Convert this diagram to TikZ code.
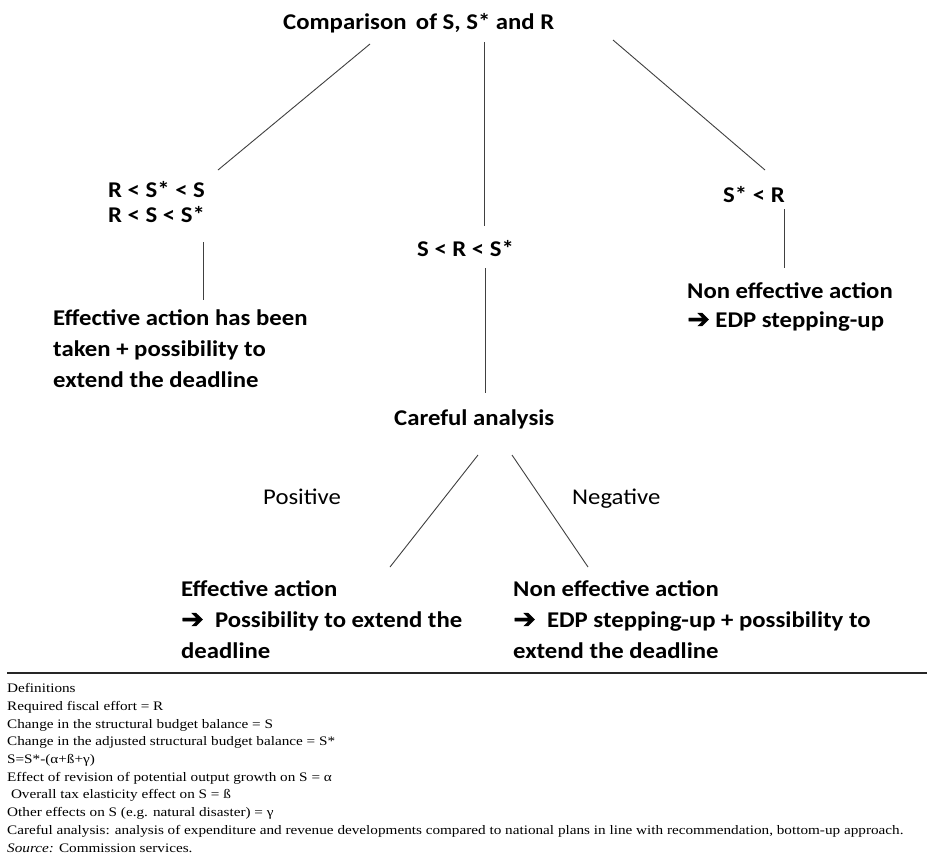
\documentclass[tikz,border=0pt]{standalone}
\usepackage{fontspec}
\setmainfont[FakeStretch=1.1]{Carlito}
\newfontfamily\deffont[FakeStretch=1.17]{Liberation Serif}
\newfontfamily\arrowfont[FakeBold=1.5]{DejaVu Sans Bold}
\newcommand{\rarr}{\raisebox{-1pt}{\arrowfont\fontsize{27}{27}\selectfont ➔}}
\begin{document}
\begin{tikzpicture}[x=1pt,y=-1pt,
  lbl/.style={inner sep=0pt, anchor=base west, font=\bfseries\fontsize{22.5}{31}\selectfont, align=left},
  plain/.style={inner sep=0pt, anchor=base west, font=\fontsize{22.5}{31}\selectfont},
  defs/.style={inner sep=0pt, anchor=base west, font=\deffont\fontsize{13}{17.7}\selectfont, align=left},
  conn/.style={draw=black!75, line width=0.9pt}]
\useasboundingbox (0,0) rectangle (927,857);
\fill[white] (0,0) rectangle (927,857);

% texts (base anchor = baseline of the last line)
\node[lbl] (title) at (283,29) {Comparison\, of S, S* and R};
\node[lbl, font=\bfseries\fontsize{22.5}{25}\selectfont] (left) at (108,222) {R < S* < S\\R < S < S*};
\node[lbl] (mid) at (417,256) {S < R < S*};
\node[lbl] (right) at (723,202) {S* < R};
\node[lbl] (eff) at (53,387) {Effective action has been\\taken + possibility to\\extend the deadline};
\node[lbl, font=\bfseries\fontsize{22.5}{29}\selectfont] (neff) at (687,327) {Non effective action\\\rarr\ EDP stepping-up};
\node[lbl] (care) at (394,425) {Careful analysis};
\node[plain] (pos) at (263,504) {Positive};
\node[plain] (neg) at (572,504) {Negative};
\node[lbl] (beff) at (181,658) {Effective action\\\rarr\ \ Possibility to extend the\\deadline};
\node[lbl] (bneff) at (513,658) {Non effective action\\\rarr\ \ EDP stepping-up + possibility to\\extend the deadline};

% connector end points
\coordinate (t1) at (370,44);  \coordinate (l1) at (218,170);
\coordinate (t2) at (484,42);  \coordinate (m1) at (484,226);
\coordinate (t3) at (613,40);  \coordinate (r1) at (765,170);
\coordinate (l2) at (203,242); \coordinate (l3) at (203,300);
\coordinate (m2) at (485,268); \coordinate (m3) at (485,393);
\coordinate (r2) at (784,209); \coordinate (r3) at (784,268);
\coordinate (c1) at (478,455); \coordinate (c2) at (390,567);
\coordinate (c3) at (512,455); \coordinate (c4) at (588,567);

\draw[conn] (t1) -- (l1);
\draw[conn] (t2) -- (m1);
\draw[conn] (t3) -- (r1);
\draw[conn] (l2) -- (l3);
\draw[conn] (m2) -- (m3);
\draw[conn] (r2) -- (r3);
\draw[conn] (c1) -- (c2);
\draw[conn] (c3) -- (c4);

% rule
\coordinate (ruleL) at (7,673);
\coordinate (ruleR) at (927,673);
\draw[line width=1.8pt, black!85] (ruleL) -- (ruleR);

\node[defs] (defs) at (7,852) {Definitions\\
Required fiscal effort = R\\
Change in the structural budget balance = S\\
Change in the adjusted structural budget balance = S*\\
S=S*-(α+ß+γ)\\
Effect of revision of potential output growth on S = α\\
\ Overall tax elasticity effect on S = ß\\
Other effects on S (e.g. natural disaster) = γ\\
Careful analysis: analysis of expenditure and revenue developments compared to national plans in line with recommendation, bottom-up approach.\\
\textit{Source:} Commission services.};
\end{tikzpicture}
\end{document}
